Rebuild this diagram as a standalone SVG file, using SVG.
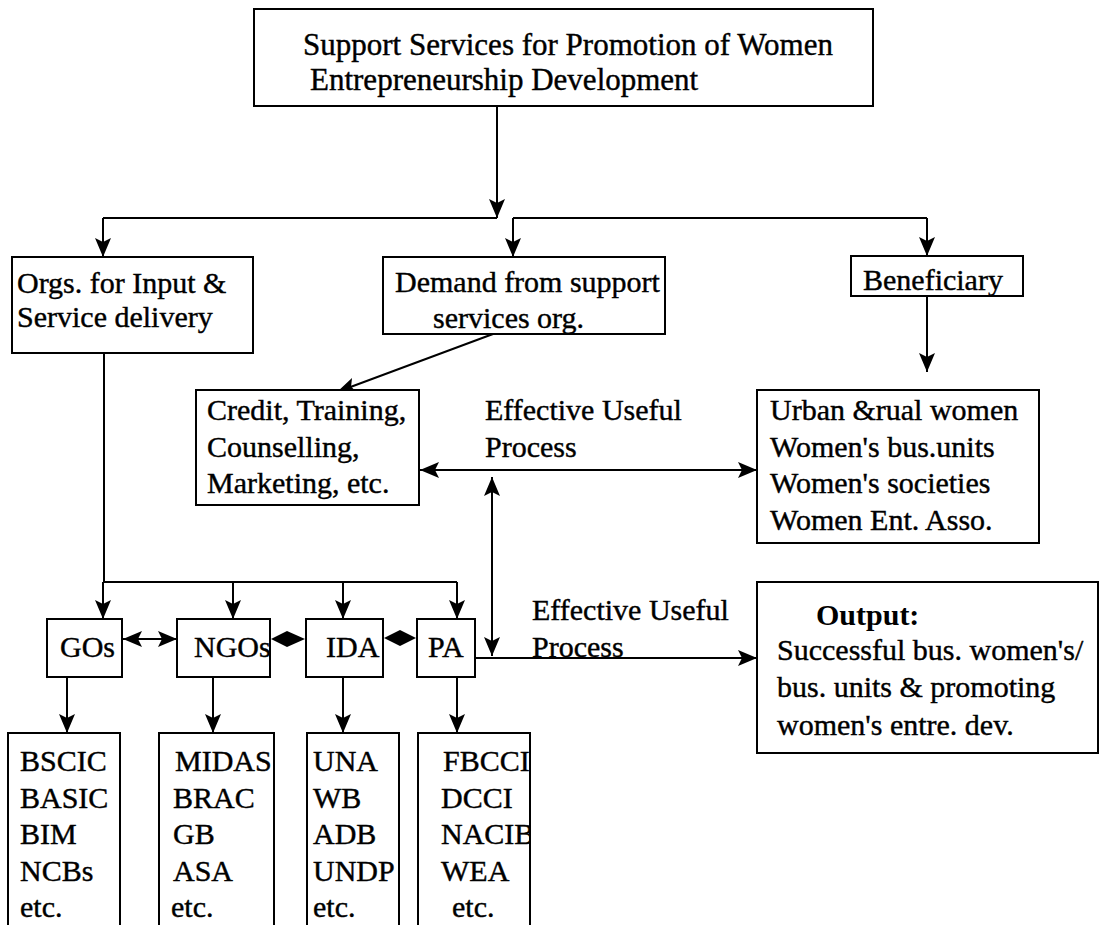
<svg xmlns="http://www.w3.org/2000/svg" width="1105" height="925" viewBox="0 0 1105 925">
  <style>
    .box { fill: #fff; stroke: #000; stroke-width: 2; }
    .t { font-family: "Liberation Serif", "Times New Roman", serif; font-size: 30px; fill: #000; stroke: #000; stroke-width: 0.4; }
    .tt { font-size: 31px; }
    .b { font-weight: bold; stroke-width: 0; }
    .ln { fill: none; stroke: #000; stroke-width: 2; }
    .arr { marker-end: url(#ah); }
    .arr2 { marker-end: url(#ah); marker-start: url(#ahs); }
  </style>
  <defs>
    <marker id="ah" markerUnits="userSpaceOnUse" markerWidth="20" markerHeight="18" refX="19" refY="8" orient="auto">
      <path d="M0,0 L19,8 L0,16 L4,8 z" fill="#000"/>
    </marker>
    <marker id="ahs" markerUnits="userSpaceOnUse" markerWidth="20" markerHeight="18" refX="1" refY="8" orient="auto">
      <path d="M20,0 L1,8 L20,16 L16,8 z" fill="#000"/>
    </marker>
    <clipPath id="cDemand"><rect x="383" y="250" width="282" height="100"/></clipPath>
    <clipPath id="cNgo"><rect x="177" y="619" width="93" height="58"/></clipPath>
    <clipPath id="cMidas"><rect x="159" y="733" width="115" height="200"/></clipPath>
    <clipPath id="cFbcci"><rect x="418" y="733" width="112" height="200"/></clipPath>
  </defs>
  <rect width="1105" height="925" fill="#fff"/>

  <g id="connectors">
    <line class="ln arr" x1="497" y1="106" x2="497" y2="218"/>
    <line class="ln" x1="103" y1="218" x2="497" y2="218"/>
    <line class="ln" x1="513" y1="218" x2="927" y2="218"/>
    <line class="ln arr" x1="103" y1="218" x2="103" y2="257"/>
    <line class="ln arr" x1="513" y1="218" x2="513" y2="257"/>
    <line class="ln arr" x1="927" y1="218" x2="927" y2="256"/>
    <line class="ln arr" x1="927" y1="296" x2="927" y2="372"/>
    <line class="ln arr" x1="493" y1="334" x2="337" y2="392"/>
    <line class="ln arr2" x1="420" y1="470" x2="757" y2="470"/>
    <line class="ln arr2" x1="492" y1="477" x2="492" y2="656"/>
    <line class="ln" x1="104" y1="353" x2="104" y2="582"/>
    <line class="ln" x1="103" y1="582" x2="457" y2="582"/>
    <line class="ln arr" x1="103" y1="582" x2="103" y2="619"/>
    <line class="ln arr" x1="233" y1="582" x2="233" y2="619"/>
    <line class="ln arr" x1="343" y1="582" x2="343" y2="619"/>
    <line class="ln arr" x1="457" y1="582" x2="457" y2="619"/>
    <line class="ln arr2" x1="123" y1="639" x2="177" y2="639"/>
    <polygon points="271,639 287,631 305,639 287,647" fill="#000"/>
    <polygon points="384,638 400,630 416,638 400,646" fill="#000"/>
    <line class="ln arr" x1="475" y1="658" x2="757" y2="658"/>
    <line class="ln arr" x1="67" y1="677" x2="67" y2="733"/>
    <line class="ln arr" x1="213" y1="677" x2="213" y2="733"/>
    <line class="ln arr" x1="343" y1="677" x2="343" y2="733"/>
    <line class="ln arr" x1="457" y1="677" x2="457" y2="733"/>
    <text class="t" x="485" y="420">Effective Useful</text>
    <text class="t" x="485" y="457">Process</text>
    <text class="t" x="532" y="620">Effective Useful</text>
    <text class="t" x="532" y="657">Process</text>
  </g>

  <g id="n-top">
    <rect class="box" x="254" y="9" width="619" height="97"/>
    <text class="t tt" x="303" y="55">Support Services for Promotion of Women</text>
    <text class="t tt" x="310" y="90">Entrepreneurship Development</text>
  </g>
  <g id="n-orgs">
    <rect class="box" x="12" y="257" width="241" height="96"/>
    <text class="t" x="17" y="293">Orgs. for Input &amp;</text>
    <text class="t" x="17" y="327">Service delivery</text>
  </g>
  <g id="n-demand">
    <rect class="box" x="383" y="257" width="282" height="77"/>
    <g clip-path="url(#cDemand)">
      <text class="t" x="395" y="292">Demand from support</text>
      <text class="t" x="433" y="328">services org.</text>
    </g>
  </g>
  <g id="n-beneficiary">
    <rect class="box" x="851" y="256" width="172" height="40"/>
    <text class="t" x="863" y="290">Beneficiary</text>
  </g>
  <g id="n-credit">
    <rect class="box" x="196" y="390" width="223" height="115"/>
    <text class="t" x="207" y="420">Credit, Training,</text>
    <text class="t" x="207" y="457">Counselling,</text>
    <text class="t" x="207" y="493">Marketing, etc.</text>
  </g>
  <g id="n-urban">
    <rect class="box" x="757" y="390" width="282" height="153"/>
    <text class="t" x="770" y="420">Urban &amp;rual women</text>
    <text class="t" x="770" y="457">Women's bus.units</text>
    <text class="t" x="770" y="493">Women's societies</text>
    <text class="t" x="770" y="530">Women Ent. Asso.</text>
  </g>
  <g id="n-gos">
    <rect class="box" x="47" y="619" width="75" height="58"/>
    <text class="t" x="60" y="657">GOs</text>
  </g>
  <g id="n-ngo">
    <rect class="box" x="177" y="619" width="93" height="58"/>
    <g clip-path="url(#cNgo)"><text class="t" x="194" y="657">NGOs</text></g>
  </g>
  <g id="n-ida">
    <rect class="box" x="306" y="619" width="77" height="58"/>
    <text class="t" x="326" y="657">IDA</text>
  </g>
  <g id="n-pa">
    <rect class="box" x="417" y="619" width="58" height="58"/>
    <text class="t" x="428" y="657">PA</text>
  </g>
  <g id="n-output">
    <rect class="box" x="757" y="582" width="341" height="171"/>
    <text class="t b" x="816" y="625">Output:</text>
    <text class="t" x="777" y="660">Successful bus. women's/</text>
    <text class="t" x="777" y="697">bus. units &amp; promoting</text>
    <text class="t" x="777" y="735">women's entre. dev.</text>
  </g>
  <g id="n-bscic">
    <rect class="box" x="8" y="733" width="112" height="202"/>
    <text class="t" x="20" y="771">BSCIC</text>
    <text class="t" x="20" y="808">BASIC</text>
    <text class="t" x="20" y="844">BIM</text>
    <text class="t" x="20" y="881">NCBs</text>
    <text class="t" x="20" y="917">etc.</text>
  </g>
  <g id="n-midas">
    <rect class="box" x="159" y="733" width="115" height="202"/>
    <g clip-path="url(#cMidas)">
      <text class="t" x="175" y="771">MIDAS</text>
      <text class="t" x="173" y="808">BRAC</text>
      <text class="t" x="173" y="844">GB</text>
      <text class="t" x="173" y="881">ASA</text>
      <text class="t" x="171" y="917">etc.</text>
    </g>
  </g>
  <g id="n-una">
    <rect class="box" x="307" y="733" width="92" height="202"/>
    <text class="t" x="313" y="771">UNA</text>
    <text class="t" x="313" y="808">WB</text>
    <text class="t" x="313" y="844">ADB</text>
    <text class="t" x="313" y="881">UNDP</text>
    <text class="t" x="313" y="917">etc.</text>
  </g>
  <g id="n-fbcci">
    <rect class="box" x="418" y="733" width="112" height="202"/>
    <g clip-path="url(#cFbcci)">
      <text class="t" x="443" y="771">FBCCI</text>
      <text class="t" x="441" y="808">DCCI</text>
      <text class="t" x="441" y="844">NACIB</text>
      <text class="t" x="441" y="881">WEA</text>
      <text class="t" x="452" y="917">etc.</text>
    </g>
  </g>
</svg>
